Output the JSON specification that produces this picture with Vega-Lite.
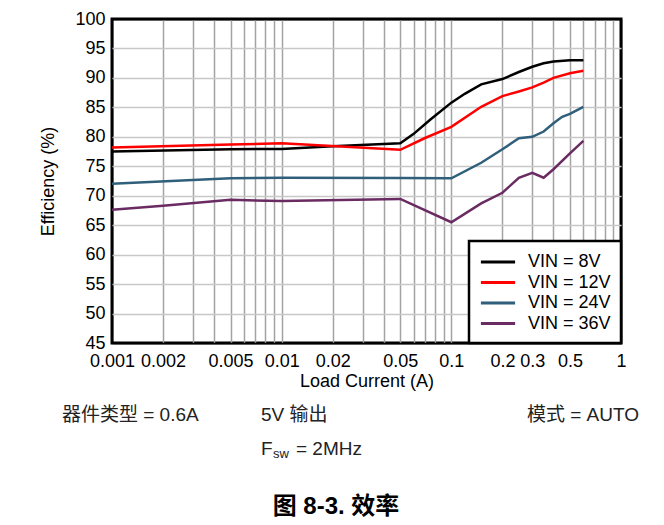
{
  "$schema": "https://vega.github.io/schema/vega-lite/v6.json",
  "width": 509,
  "height": 324,
  "autosize": {"type": "none"},
  "padding": {"left": 112, "top": 19, "right": 43, "bottom": 182},
  "background": "white",
  "config": {
    "view": {"stroke": "black", "strokeWidth": 3},
    "font": "Liberation Sans, Noto Sans CJK SC, sans-serif",
    "text": {"font": "Liberation Sans, Noto Sans CJK SC, sans-serif"}
  },
  "resolve": {"axis": {"x": "independent", "y": "independent"}},
  "datasets": {
    "eff": [
      {"I": 0.001, "E": 77.5, "s": "VIN = 8V"},
      {"I": 0.005, "E": 77.9, "s": "VIN = 8V"},
      {"I": 0.01, "E": 77.95, "s": "VIN = 8V"},
      {"I": 0.02, "E": 78.4, "s": "VIN = 8V"},
      {"I": 0.05, "E": 78.9, "s": "VIN = 8V"},
      {"I": 0.06, "E": 80.5, "s": "VIN = 8V"},
      {"I": 0.075, "E": 82.9, "s": "VIN = 8V"},
      {"I": 0.1, "E": 85.8, "s": "VIN = 8V"},
      {"I": 0.12, "E": 87.3, "s": "VIN = 8V"},
      {"I": 0.15, "E": 88.9, "s": "VIN = 8V"},
      {"I": 0.2, "E": 89.8, "s": "VIN = 8V"},
      {"I": 0.25, "E": 91.0, "s": "VIN = 8V"},
      {"I": 0.3, "E": 91.9, "s": "VIN = 8V"},
      {"I": 0.35, "E": 92.5, "s": "VIN = 8V"},
      {"I": 0.4, "E": 92.8, "s": "VIN = 8V"},
      {"I": 0.5, "E": 93.0, "s": "VIN = 8V"},
      {"I": 0.6, "E": 93.0, "s": "VIN = 8V"},
      {"I": 0.001, "E": 78.2, "s": "VIN = 12V"},
      {"I": 0.005, "E": 78.7, "s": "VIN = 12V"},
      {"I": 0.01, "E": 78.9, "s": "VIN = 12V"},
      {"I": 0.05, "E": 77.8, "s": "VIN = 12V"},
      {"I": 0.07, "E": 79.8, "s": "VIN = 12V"},
      {"I": 0.1, "E": 81.7, "s": "VIN = 12V"},
      {"I": 0.15, "E": 85.1, "s": "VIN = 12V"},
      {"I": 0.2, "E": 86.9, "s": "VIN = 12V"},
      {"I": 0.25, "E": 87.7, "s": "VIN = 12V"},
      {"I": 0.3, "E": 88.4, "s": "VIN = 12V"},
      {"I": 0.35, "E": 89.2, "s": "VIN = 12V"},
      {"I": 0.4, "E": 90.0, "s": "VIN = 12V"},
      {"I": 0.5, "E": 90.8, "s": "VIN = 12V"},
      {"I": 0.6, "E": 91.2, "s": "VIN = 12V"},
      {"I": 0.001, "E": 72.05, "s": "VIN = 24V"},
      {"I": 0.005, "E": 72.95, "s": "VIN = 24V"},
      {"I": 0.01, "E": 73.05, "s": "VIN = 24V"},
      {"I": 0.05, "E": 73.0, "s": "VIN = 24V"},
      {"I": 0.1, "E": 72.95, "s": "VIN = 24V"},
      {"I": 0.15, "E": 75.6, "s": "VIN = 24V"},
      {"I": 0.2, "E": 77.9, "s": "VIN = 24V"},
      {"I": 0.25, "E": 79.75, "s": "VIN = 24V"},
      {"I": 0.3, "E": 80.0, "s": "VIN = 24V"},
      {"I": 0.35, "E": 80.9, "s": "VIN = 24V"},
      {"I": 0.4, "E": 82.3, "s": "VIN = 24V"},
      {"I": 0.45, "E": 83.4, "s": "VIN = 24V"},
      {"I": 0.5, "E": 83.9, "s": "VIN = 24V"},
      {"I": 0.6, "E": 85.1, "s": "VIN = 24V"},
      {"I": 0.001, "E": 67.6, "s": "VIN = 36V"},
      {"I": 0.002, "E": 68.3, "s": "VIN = 36V"},
      {"I": 0.005, "E": 69.3, "s": "VIN = 36V"},
      {"I": 0.01, "E": 69.1, "s": "VIN = 36V"},
      {"I": 0.05, "E": 69.45, "s": "VIN = 36V"},
      {"I": 0.1, "E": 65.5, "s": "VIN = 36V"},
      {"I": 0.15, "E": 68.7, "s": "VIN = 36V"},
      {"I": 0.2, "E": 70.5, "s": "VIN = 36V"},
      {"I": 0.25, "E": 73.05, "s": "VIN = 36V"},
      {"I": 0.3, "E": 73.9, "s": "VIN = 36V"},
      {"I": 0.35, "E": 73.05, "s": "VIN = 36V"},
      {"I": 0.4, "E": 74.5, "s": "VIN = 36V"},
      {"I": 0.5, "E": 77.2, "s": "VIN = 36V"},
      {"I": 0.6, "E": 79.3, "s": "VIN = 36V"}
    ]
  },
  "layer": [
    {
      "data": {"name": "eff"},
      "mark": {"type": "line", "strokeWidth": 2.5, "clip": true},
      "encoding": {
        "x": {
          "field": "I", "type": "quantitative",
          "scale": {"type": "log", "domain": [0.001, 1], "nice": false},
          "axis": {
            "title": "Load Current (A)",
            "values": [0.001,0.002,0.003,0.004,0.005,0.006,0.007,0.008,0.009,0.01,0.02,0.03,0.04,0.05,0.06,0.07,0.08,0.09,0.1,0.2,0.3,0.4,0.5,0.6,0.7,0.8,0.9,1],
            "labelExpr": "indexof([0.001,0.002,0.005,0.01,0.02,0.05,0.1,0.2,0.3,0.5,1], datum.value) >= 0 ? format(datum.value, '~g') : ''",
            "labelOverlap": false,
            "labelBound": false,
            "labelFlush": false,
            "labelFontSize": 18,
            "labelColor": "black",
            "labelPadding": 9,
            "ticks": false,
            "domain": false,
            "grid": true,
            "gridColor": {"condition": {"test": "datum.value == 0.001 || datum.value == 1", "value": "black"}, "value": "#a3a3a3"},
            "gridWidth": 1.5,
            "titleFontSize": 18,
            "titleFontWeight": "normal",
            "titleColor": "black",
            "titlePadding": 2
          }
        },
        "y": {
          "field": "E", "type": "quantitative",
          "scale": {"domain": [45, 100], "nice": false, "zero": false},
          "axis": {
            "title": "Efficiency (%)",
            "values": [45,50,55,60,65,70,75,80,85,90,95,100],
            "labelOverlap": false,
            "labelBound": false,
            "labelFlush": false,
            "labelFontSize": 18,
            "labelColor": "black",
            "labelPadding": 7,
            "ticks": false,
            "domain": false,
            "grid": true,
            "gridColor": {"condition": {"test": "datum.value == 45 || datum.value == 100", "value": "black"}, "value": "#c8c8c8"},
            "gridWidth": 1.5,
            "titleFontSize": 18,
            "titleFontWeight": "normal",
            "titleColor": "black",
            "titlePadding": 17
          }
        },
        "color": {
          "field": "s", "type": "nominal",
          "scale": {"domain": ["VIN = 8V", "VIN = 12V", "VIN = 24V", "VIN = 36V"], "range": ["#000000", "#ff0000", "#2f5f7a", "#6a2b62"]},
          "legend": {
            "title": null,
            "orient": "bottom-right",
            "offset": 0,
            "fillColor": "white",
            "strokeColor": "black",
            "padding": 10,
            "symbolType": "M-1.8,0H1.8",
            "symbolSize": 361,
            "symbolStrokeWidth": 3,
            "symbolOffset": 8,
            "labelFontSize": 18,
            "labelColor": "black",
            "labelOffset": 19,
            "rowPadding": 0.5,
            "encode": {"legend": {"update": {"strokeWidth": {"value": 2.5}}}}
          }
        }
      }
    },
    {
      "data": {"values": [{"t": "器件类型 = 0.6A"}]},
      "mark": {"type": "text", "align": "left", "baseline": "middle", "fontSize": 19, "color": "#222"},
      "encoding": {
        "x": {"datum": 0.000507, "type": "quantitative", "axis": null},
        "y": {"datum": 32.78, "type": "quantitative", "axis": null},
        "text": {"field": "t"}
      }
    },
    {
      "data": {"values": [{"t": "5V 输出"}]},
      "mark": {"type": "text", "align": "left", "baseline": "middle", "fontSize": 19, "color": "#222"},
      "encoding": {
        "x": {"datum": 0.00755, "type": "quantitative", "axis": null},
        "y": {"datum": 32.78, "type": "quantitative", "axis": null},
        "text": {"field": "t"}
      }
    },
    {
      "data": {"values": [{"t": "模式 = AUTO"}]},
      "mark": {"type": "text", "align": "left", "baseline": "middle", "fontSize": 19, "color": "#222"},
      "encoding": {
        "x": {"datum": 0.279, "type": "quantitative", "axis": null},
        "y": {"datum": 32.78, "type": "quantitative", "axis": null},
        "text": {"field": "t"}
      }
    },
    {
      "data": {"values": [{"t": "F"}]},
      "mark": {"type": "text", "align": "left", "baseline": "middle", "fontSize": 19, "color": "#222"},
      "encoding": {
        "x": {"datum": 0.00755, "type": "quantitative", "axis": null},
        "y": {"datum": 27.0, "type": "quantitative", "axis": null},
        "text": {"field": "t"}
      }
    },
    {
      "data": {"values": [{"t": "sw"}]},
      "mark": {"type": "text", "align": "left", "baseline": "middle", "fontSize": 13, "dx": 12, "dy": 5, "color": "#222"},
      "encoding": {
        "x": {"datum": 0.00755, "type": "quantitative", "axis": null},
        "y": {"datum": 27.0, "type": "quantitative", "axis": null},
        "text": {"field": "t"}
      }
    },
    {
      "data": {"values": [{"t": "= 2MHz"}]},
      "mark": {"type": "text", "align": "left", "baseline": "middle", "fontSize": 19, "dx": 35, "color": "#222"},
      "encoding": {
        "x": {"datum": 0.00755, "type": "quantitative", "axis": null},
        "y": {"datum": 27.0, "type": "quantitative", "axis": null},
        "text": {"field": "t"}
      }
    },
    {
      "data": {"values": [{"t": "图 8-3. 效率"}]},
      "mark": {"type": "text", "align": "center", "baseline": "middle", "fontSize": 24, "fontWeight": "bold", "color": "black"},
      "encoding": {
        "x": {"datum": 0.0209, "type": "quantitative", "axis": null},
        "y": {"datum": 17.08, "type": "quantitative", "axis": null},
        "text": {"field": "t"}
      }
    }
  ]
}
